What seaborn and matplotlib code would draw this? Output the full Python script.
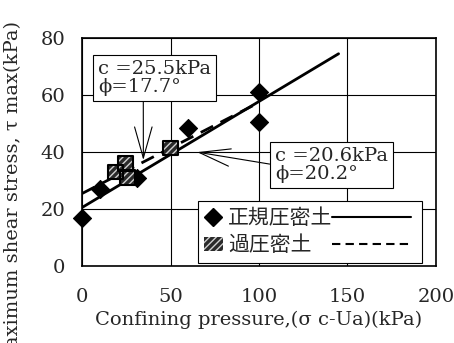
import matplotlib
matplotlib.use("Agg")
import matplotlib.pyplot as plt
import seaborn as sns
import pandas as pd
from matplotlib.lines import Line2D
from matplotlib.patches import Patch
from matplotlib.legend_handler import HandlerLine2D, HandlerPatch

# normally consolidated soil (diamonds)
nc_x = [0, 10, 31, 60, 100, 100]
nc_y = [17, 27, 31, 48.5, 61, 50.5]
# over consolidated soil (squares)
oc_x = [18.7, 24.4, 25.5, 50]
oc_y = [33, 36, 31, 41.5]

# failure envelopes
nc_line_x = [0, 145]
nc_line_y = [20.6, 74.5]
oc_line_x = [0, 100]
oc_line_y = [25.5, 57.4]

x_ticks = [0, 50, 100, 150, 200]
y_ticks = [0, 20, 40, 60, 80]

sns.set_style("white")
plt.rcParams['font.family'] = ['DejaVu Serif', 'Noto Sans CJK JP']
plt.rcParams['font.size'] = 14
plt.rcParams['hatch.linewidth'] = 1.0

fig = plt.figure(figsize=(4.54, 3.43), dpi=100)
ax = fig.add_axes([0.181, 0.224, 0.779, 0.665])

nc = pd.DataFrame({'x': nc_x, 'y': nc_y})
oc = pd.DataFrame({'x': oc_x, 'y': oc_y})

sns.lineplot(x=nc_line_x, y=nc_line_y, color='black', lw=2, ax=ax)
sns.lineplot(x=oc_line_x, y=oc_line_y, color='black', lw=2, ls=(0, (5, 3)), ax=ax)

sns.scatterplot(data=nc, x='x', y='y', marker='D', s=85, color='black',
                edgecolor='black', ax=ax, zorder=3, clip_on=False)
sns.scatterplot(data=oc, x='x', y='y', marker='s', s=110, color='#2a2a2a',
                edgecolor='#d0d0d0', hatch='/////', linewidth=0, ax=ax, zorder=4)
sns.scatterplot(data=oc, x='x', y='y', marker='s', s=110, facecolor='none',
                edgecolor='black', linewidth=1.5, ax=ax, zorder=5)

ax.set_xlim(0, 200)
ax.set_ylim(0, 80)
ax.set_xticks(x_ticks)
ax.set_yticks(y_ticks)
ax.grid(True, color='black', lw=0.8)
for sp in ax.spines.values():
    sp.set_color('black')
    sp.set_linewidth(1.2)
ax.tick_params(axis='x', length=0, pad=16, labelsize=14)
ax.tick_params(axis='y', length=0, pad=12, labelsize=14)

ax.set_xlabel('Confining pressure,(σ c-Ua)(kPa)', fontsize=14, labelpad=3)
ax.set_ylabel('Maximum shear stress, τ max(kPa)', fontsize=14)
ax.yaxis.set_label_coords(-0.17, 0.315)

box = dict(boxstyle='square,pad=0.25', fc='white', ec='black', lw=0.8)
ax.annotate('c =25.5kPa\nϕ=17.7°', xy=(34.6, 37.2), xytext=(9, 66),
            va='center', ha='left', bbox=box, fontsize=14, linespacing=1.05,
            arrowprops=dict(arrowstyle='->,head_length=1.6,head_width=0.45',
                            lw=0.8, color='black', relpos=(0.4, 0), shrinkA=0, shrinkB=0))
ax.annotate('c =20.6kPa\nϕ=20.2°', xy=(65, 40), xytext=(109, 35.5),
            va='center', ha='left', bbox=box, fontsize=14, linespacing=1.05,
            arrowprops=dict(arrowstyle='->,head_length=1.6,head_width=0.45',
                            lw=0.8, color='black', relpos=(0, 0.5), shrinkA=0, shrinkB=0))


class WideLine(HandlerLine2D):
    def legend_artist(self, legend, orig_handle, fontsize, handlebox):
        handlebox.width = handlebox.width * 4.2
        return super().legend_artist(legend, orig_handle, fontsize, handlebox)


class SquarePatch(HandlerPatch):
    def legend_artist(self, legend, orig_handle, fontsize, handlebox):
        handlebox.height = handlebox.width * 0.85
        return super().legend_artist(legend, orig_handle, fontsize, handlebox)


h_nc = Line2D([], [], marker='D', color='black', ls='none', markersize=9)
h_oc = Patch(facecolor='#2a2a2a', edgecolor='#d0d0d0', hatch='/////', lw=0)
h_l1 = Line2D([], [], color='black', lw=1.5)
h_l2 = Line2D([], [], color='black', lw=1.5, ls=(0, (4, 2.5)))
leg = ax.legend([h_nc, h_oc, h_l1, h_l2], ['正規圧密土', '過圧密土', '', ''],
                ncol=2, loc='lower right', bbox_to_anchor=(0.962, 0.016),
                handler_map={h_l1: WideLine(), h_l2: WideLine()},
                fancybox=False, edgecolor='black', framealpha=1,
                handlelength=0.9, handletextpad=0.25, columnspacing=0.0,
                borderaxespad=0, fontsize=15, labelspacing=0.25, borderpad=0.3)
leg.get_frame().set_linewidth(0.8)
leg.set_zorder(6)
for t in leg.get_texts():
    t.set_family(['Noto Sans CJK JP'])

fig.savefig('out.png', dpi=100)
